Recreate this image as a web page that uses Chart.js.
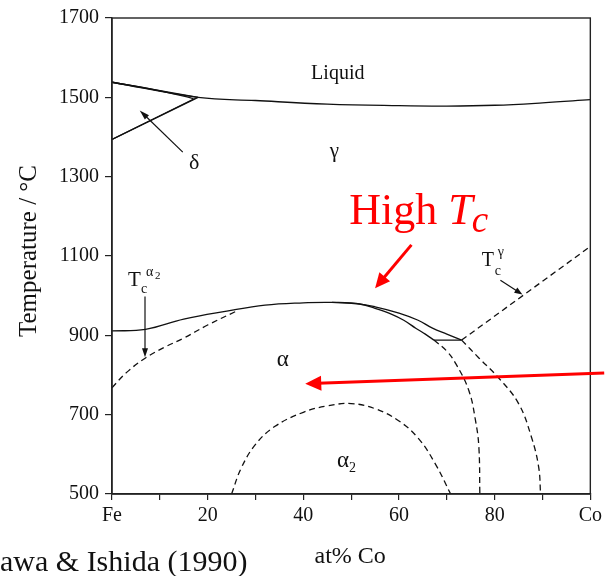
<!DOCTYPE html>
<html>
<head>
<meta charset="utf-8">
<script src="https://cdn.jsdelivr.net/npm/chart.js@4.4.1/dist/chart.umd.min.js"></script>
<style>
  html, body { margin: 0; padding: 0; background: #fff; }
  #wrap { width: 606px; height: 576px; }
</style>
</head>
<body>
<div id="wrap"><canvas id="phase" width="606" height="576"></canvas></div>
<script>
// Fe-Co phase diagram (at% Co, degC)
const xTicks = [0, 10, 20, 30, 40, 50, 60, 70, 80, 90, 100];
const xTickLabels = ["Fe", "", "20", "", "40", "", "60", "", "80", "", "Co"];
const tTicks = [500, 700, 900, 1100, 1300, 1500, 1700];

const liquidusX = [0, 18, 30, 45, 60, 70, 80, 90, 100];
const liquidusT = [1538, 1500, 1492, 1483, 1479, 1478, 1480, 1486, 1494];

const deltaTopX = [0, 18];
const deltaTopT = [1538, 1500];
const deltaTop2X = [0, 9, 17];
const deltaTop2T = [1538, 1519, 1497];
const deltaLowX = [0, 18];
const deltaLowT = [1394, 1500];
const deltaLow2X = [0, 17.3];
const deltaLow2T = [1394, 1497];

const alphaGammaX = [0, 7, 15, 24, 32, 40, 45, 50, 55, 60, 64, 67, 70, 73.1];
const alphaGammaT = [911, 915, 941, 961, 976, 982, 983, 982, 972, 956, 938, 918, 903, 888];
const alphaInnerX = [46, 51.7, 55, 58.5, 61, 63.5, 65.5, 67.3];
const alphaInnerT = [983, 979, 968, 953, 938, 918, 903, 888];
const tieX = [67.3, 73.1];
const tieT = [888, 888];

const tcAlphaX = [0, 3, 7, 11, 15, 20, 26];
const tcAlphaT = [768, 806, 843, 870, 893, 926, 961];
const tcGammaX = [73.1, 100];
const tcGammaT = [888, 1124];

const branchAX = [67.3, 70, 71.9, 74.6, 76.0, 76.7, 76.9];
const branchAT = [888, 860, 828, 761, 685, 618, 500];
const branchBX = [73.1, 76.7, 80.8, 85, 87.7, 89.2, 89.6];
const branchBT = [888, 843, 793, 728, 643, 568, 500];

const orderDomeX = [25, 27, 30, 34, 40, 45, 50, 55, 60, 64, 67.5, 70.8];
const orderDomeT = [500, 565, 625, 670, 706, 722, 728, 715, 684, 641, 578, 500];

function pts(xs, ts) {
  return xs.map((x, i) => ({ x: x, y: ts[i] }));
}

function curve(xs, ts, dashed, smooth) {
  return {
    data: pts(xs, ts),
    showLine: true,
    borderColor: "#111",
    borderWidth: 1.3,
    borderDash: dashed ? [6, 4] : [],
    pointRadius: 0,
    fill: false,
    tension: smooth ? 0.4 : 0,
  };
}

const serif = "'Liberation Serif', 'Times New Roman', serif";

// text and arrow annotations anchored in data space
const notes = {
  texts: [
    { t: "Liquid", x: 47.2, y: 1545, size: 20 },
    { t: "γ", x: 46.5, y: 1350, size: 21 },
    { t: "δ", x: 17.2, y: 1320, size: 22 },
    { t: "α", x: 35.7, y: 822, size: 23 },
  ],
  arrows: [
    { x0: 14.8, y0: 1362, x1: 5.8, y1: 1467, color: "#111", w: 1.2, head: 10, half: 3 },
    { x0: 6.9, y0: 998, x1: 6.9, y1: 845, color: "#111", w: 1.2, head: 9, half: 3 },
    { x0: 81.2, y0: 1039, x1: 85.8, y1: 1003, color: "#111", w: 1.2, head: 8, half: 3 },
    { x0: 62.6, y0: 1128, x1: 55, y1: 1019, color: "#ff0000", w: 3, head: 15, half: 7 },
    { x0: 102.9, y0: 805, x1: 40.4, y1: 778, color: "#ff0000", w: 3, head: 16, half: 7.5 },
  ],
};

function arrow(ctx, ax, ay, bx, by, color, w, head, half) {
  const ang = Math.atan2(by - ay, bx - ax);
  const ex = bx - Math.cos(ang) * head * 0.8;
  const ey = by - Math.sin(ang) * head * 0.8;
  ctx.strokeStyle = color;
  ctx.fillStyle = color;
  ctx.lineWidth = w;
  ctx.beginPath();
  ctx.moveTo(ax, ay);
  ctx.lineTo(ex, ey);
  ctx.stroke();
  ctx.beginPath();
  ctx.moveTo(bx, by);
  ctx.lineTo(bx - Math.cos(ang) * head - Math.sin(ang) * half, by - Math.sin(ang) * head + Math.cos(ang) * half);
  ctx.lineTo(bx - Math.cos(ang) * head + Math.sin(ang) * half, by - Math.sin(ang) * head - Math.cos(ang) * half);
  ctx.closePath();
  ctx.fill();
}

const decorations = {
  id: "decorations",
  afterDraw(chart) {
    const ctx = chart.ctx;
    const sx = chart.scales.x;
    const sy = chart.scales.y;
    const a = chart.chartArea;
    const px = (v) => sx.getPixelForValue(v);
    const py = (v) => sy.getPixelForValue(v);
    ctx.save();

    // frame on top and right
    ctx.strokeStyle = "#222";
    ctx.lineWidth = 1.4;
    ctx.strokeRect(a.left, a.top, a.right - a.left, a.bottom - a.top);

    ctx.fillStyle = "#111";
    ctx.textAlign = "center";
    ctx.textBaseline = "alphabetic";
    notes.texts.forEach((n) => {
      ctx.font = n.size + "px " + serif;
      ctx.fillText(n.t, px(n.x), py(n.y));
    });

    // alpha_2 label
    let bx = px(48.3), by = py(568);
    ctx.font = "23px " + serif;
    ctx.textAlign = "right";
    ctx.fillText("α", bx + 6, by);
    ctx.textAlign = "left";
    ctx.font = "14px " + serif;
    ctx.fillText("2", bx + 6, by + 5);

    // Tc^alpha2 label
    bx = px(3.33); by = py(1024);
    ctx.font = "21px " + serif;
    ctx.fillText("T", bx, by);
    ctx.font = "14px " + serif;
    ctx.fillText("c", bx + 13, by + 7);
    ctx.fillText("α", bx + 18, by - 10);
    ctx.font = "11px " + serif;
    ctx.fillText("2", bx + 27, by - 7);

    // Tc^gamma label
    bx = px(77.3); by = py(1074);
    ctx.font = "20px " + serif;
    ctx.fillText("T", bx, by);
    ctx.font = "14px " + serif;
    ctx.fillText("c", bx + 13, by + 9);
    ctx.fillText("γ", bx + 16, by - 10);

    notes.arrows.forEach((r) => arrow(ctx, px(r.x0), py(r.y0), px(r.x1), py(r.y1), r.color, r.w, r.head, r.half));

    // red "High Tc"
    ctx.fillStyle = "#ff0000";
    ctx.textAlign = "left";
    bx = px(49.6); by = py(1180);
    ctx.font = "44px " + serif;
    ctx.fillText("High ", bx, by);
    const hw = ctx.measureText("High ").width;
    ctx.font = "italic 44px " + serif;
    ctx.fillText("T", bx + hw, by);
    const tw = ctx.measureText("T").width;
    ctx.font = "italic 37px " + serif;
    ctx.fillText("c", bx + hw + tw - 1, by + 8);

    // axis titles
    ctx.fillStyle = "#111";
    ctx.textAlign = "center";
    ctx.font = "24px " + serif;
    ctx.fillText("at% Co", (a.left + a.right) / 2 - 1, 563);
    ctx.save();
    ctx.translate(36, 251);
    ctx.rotate(-Math.PI / 2);
    ctx.font = "25px " + serif;
    ctx.fillText("Temperature / °C", 0, 0);
    ctx.restore();

    // source note
    ctx.textAlign = "left";
    ctx.font = "30px " + serif;
    ctx.fillText("awa & Ishida (1990)", 0, 571);

    ctx.restore();
  },
};

new Chart(document.getElementById("phase"), {
  type: "scatter",
  data: {
    datasets: [
      curve(liquidusX, liquidusT, false, true),
      curve(deltaTopX, deltaTopT, false, false),
      curve(deltaTop2X, deltaTop2T, false, true),
      curve(deltaLowX, deltaLowT, false, false),
      curve(deltaLow2X, deltaLow2T, false, false),
      curve(alphaGammaX, alphaGammaT, false, true),
      curve(alphaInnerX, alphaInnerT, false, true),
      curve(tieX, tieT, false, false),
      curve(tcAlphaX, tcAlphaT, true, true),
      curve(tcGammaX, tcGammaT, true, false),
      curve(branchAX, branchAT, true, true),
      curve(branchBX, branchBT, true, true),
      curve(orderDomeX, orderDomeT, true, true),
    ],
  },
  options: {
    responsive: false,
    animation: false,
    layout: { padding: { top: 15, right: 14, left: 0, bottom: 0 } },
    plugins: { legend: { display: false }, tooltip: { enabled: false } },
    scales: {
      x: {
        type: "linear",
        min: 0,
        max: 100,
        afterFit: (s) => { s.height = 82; },
        afterBuildTicks: (s) => { s.ticks = xTicks.map((v) => ({ value: v })); },
        ticks: {
          autoSkip: false,
          maxRotation: 0,
          padding: 4,
          color: "#111",
          font: { family: serif, size: 20 },
          callback: (v) => xTickLabels[xTicks.indexOf(v)],
        },
        grid: { drawOnChartArea: false, drawTicks: true, tickLength: 6, color: "#222", lineWidth: 1.2 },
        border: { display: true, color: "#222", width: 1.4 },
      },
      y: {
        type: "linear",
        min: 500,
        max: 1700,
        afterFit: (s) => { s.width = 112; },
        afterBuildTicks: (s) => { s.ticks = tTicks.map((v) => ({ value: v })); },
        ticks: {
          autoSkip: false,
          padding: 6,
          color: "#111",
          font: { family: serif, size: 20 },
          callback: (v) => String(v),
        },
        grid: { drawOnChartArea: false, drawTicks: true, tickLength: 7, color: "#222", lineWidth: 1.2 },
        border: { display: true, color: "#222", width: 1.4 },
      },
    },
  },
  plugins: [decorations],
});
</script>
</body>
</html>
